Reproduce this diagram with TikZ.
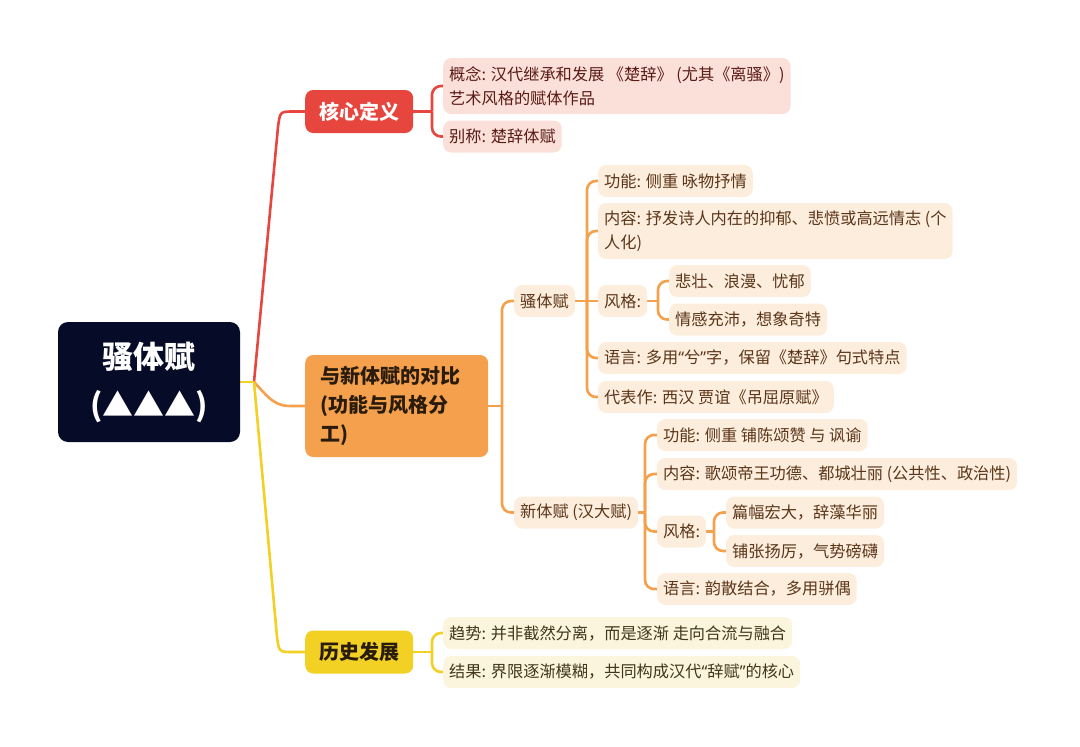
\documentclass[tikz,border=0pt]{standalone}
\usepackage{fontspec}
\setmainfont{Noto Sans CJK SC}
\newfontfamily\latinq{Noto Sans}
\usetikzlibrary{calc,backgrounds}
\definecolor{rootc}{HTML}{060B28}
\definecolor{redc}{HTML}{E7463F}
\definecolor{redleaf}{HTML}{FBE0D9}
\definecolor{redtext}{HTML}{5A1A17}
\definecolor{orc}{HTML}{F4A04C}
\definecolor{orleaf}{HTML}{FDEDDD}
\definecolor{ortext}{HTML}{5A3519}
\definecolor{yec}{HTML}{F2D024}
\definecolor{yeleaf}{HTML}{FCF5DE}
\definecolor{yetext}{HTML}{40361A}
\definecolor{darkt}{HTML}{2A1C0C}
\begin{document}
\begin{tikzpicture}[x=1pt,y=-1pt,
  rootbox/.style={fill=rootc,text=white,rounded corners=10pt,minimum width=182pt,minimum height=120pt,align=center,font=\fontsize{31}{48}\selectfont\bfseries},
  branchbox/.style={rounded corners=8pt,anchor=west,minimum height=43pt,inner xsep=14pt,font=\fontsize{20}{29}\selectfont\bfseries},
  leafbox/.style={rounded corners=8pt,anchor=west,minimum height=32pt,inner xsep=6pt,inner ysep=4pt,align=left,font=\fontsize{16.2}{24}\selectfont},
  rleaf/.style={leafbox,fill=redleaf,text=redtext},
  oleaf/.style={leafbox,fill=orleaf,text=ortext},
  yleaf/.style={leafbox,fill=yeleaf,text=yetext},
  conn/.style={line width=2.6pt,rounded corners=9pt},
  rconn/.style={conn,draw=redc},
  oconn/.style={conn,draw=orc},
  yconn/.style={conn,draw=yec},
  rootline/.style={line width=2.6pt}
]
\useasboundingbox (0,0) rectangle (1080,747);

% root and branches
\node[rootbox] (root) at (149,382) {骚体赋\\(▲▲▲)};
\node[branchbox,fill=redc,text=white] (core) at (305,111.5) {核心定义};
\node[branchbox,fill=orc,text=darkt,text width=153pt,align=left,minimum height=102pt,inner xsep=15pt] (cmp) at (305,406) {与新体赋的对比\\(功能与风格分\\工)};
\node[branchbox,fill=yec,text=darkt] (hist) at (305,652) {历史发展};

% red leaves
\node[rleaf,minimum height=56pt] (c1) at (443,86) {概念: 汉代继承和发展 《楚辞》 (尤其《离骚》)\\艺术风格的赋体作品};
\node[rleaf] (c2) at (443,136.5) {别称: 楚辞体赋};

% orange leaves
\node[oleaf] (s) at (514,301) {骚体赋};
\node[oleaf] (s1) at (598,181) {功能: 侧重 咏物抒情};
\node[oleaf,minimum height=56pt] (s2) at (598,231) {内容: 抒发诗人内在的抑郁、悲愤或高远情志 (个\\人化)};
\node[oleaf] (s3) at (598,301) {风格:};
\node[oleaf] (s31) at (669,281) {悲壮、浪漫、忧郁};
\node[oleaf] (s32) at (669,319.5) {情感充沛，想象奇特};
\node[oleaf] (s4) at (598,358) {语言: 多用{\latinq“}兮{\latinq”}字，保留《楚辞》句式特点};
\node[oleaf] (s5) at (598,397) {代表作: 西汉 贾谊《吊屈原赋》};

\node[oleaf] (n) at (514,512.5) {新体赋 (汉大赋)};
\node[oleaf] (n1) at (657,435) {功能: 侧重 铺陈颂赞 与 讽谕};
\node[oleaf] (n2) at (657,474) {内容: 歌颂帝王功德、都城壮丽 (公共性、政治性)};
\node[oleaf] (n3) at (657,531.5) {风格:};
\node[oleaf] (n31) at (726,512.5) {篇幅宏大，辞藻华丽};
\node[oleaf] (n32) at (726,551) {铺张扬厉，气势磅礴};
\node[oleaf] (n4) at (657,589) {语言: 韵散结合，多用骈偶};

% yellow leaves
\node[yleaf] (h1) at (443,633) {趋势: 并非截然分离，而是逐渐 走向合流与融合};
\node[yleaf] (h2) at (443,672) {结果: 界限逐渐模糊，共同构成汉代{\latinq“}辞赋{\latinq”}的核心};

% junction coordinates
\coordinate (rootj) at (254,382);
\coordinate (rj) at (432,111.5);
\coordinate (oj) at (502,406);
\coordinate (sj) at (587,301);
\coordinate (s3j) at (658,301);
\coordinate (nj) at (645,512.5);
\coordinate (n3j) at (714,531.5);
\coordinate (hj) at (432,652);

\begin{scope}[on background layer]
% root connectors
\draw[rootline,draw=redc] (rootj) -- (278,127) .. controls (280,111.5) .. (294,111.5) -- (core.west);
\draw[rootline,draw=orc] (rootj) .. controls (265,393) and (272,406) .. (290,406) -- (cmp.west);
\draw[rootline,draw=yec] (rootj) -- (277,637) .. controls (279,652) .. (293,652) -- (hist.west);
\draw[rootline,draw=yec] (root.east) -- (rootj);

% red
\draw[rconn] (core.east) -- (rj);
\draw[rconn] (rj) |- (c1.west);
\draw[rconn] (rj) |- (c2.west);

% orange
\draw[oconn] (cmp.east) -- (oj);
\draw[oconn] (oj) |- (s.west);
\draw[oconn] (oj) |- (n.west);

\draw[oconn] (s.east) -- (sj);
\draw[oconn] (sj) |- (s1.west);
\draw[oconn] (sj) |- (s2.west);
\draw[oconn] (sj) -- (s3.west);
\draw[oconn] (sj) |- (s4.west);
\draw[oconn] (sj) |- (s5.west);

\draw[oconn] (s3.east) -- (s3j);
\draw[oconn] (s3j) |- (s31.west);
\draw[oconn] (s3j) |- (s32.west);

\draw[oconn] (n.east) -- (nj);
\draw[oconn] (nj) |- (n1.west);
\draw[oconn] (nj) |- (n2.west);
\draw[oconn] (nj) |- (n3.west);
\draw[oconn] (nj) |- (n4.west);

\draw[oconn] (n3.east) -- (n3j);
\draw[oconn] (n3j) |- (n31.west);
\draw[oconn] (n3j) |- (n32.west);

% yellow
\draw[yconn] (hist.east) -- (hj);
\draw[yconn] (hj) |- (h1.west);
\draw[yconn] (hj) |- (h2.west);
\end{scope}
\end{tikzpicture}
\end{document}
